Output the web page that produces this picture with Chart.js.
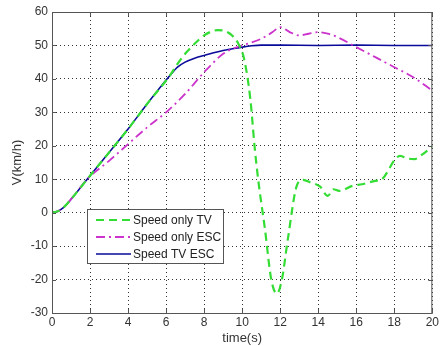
<!DOCTYPE html>
<html>
<head>
<meta charset="utf-8">
<script src="https://cdn.jsdelivr.net/npm/chart.js@4/dist/chart.umd.min.js"></script>
<style>
  html, body { margin: 0; padding: 0; background: #fff; }
  #wrap { width: 441px; height: 346px; }
</style>
</head>
<body>
<div id="wrap"><canvas id="myChart" width="441" height="346"></canvas></div>
<script>
// time (s) and speed (km/h)
var tvTime = [0, 0.3, 0.6, 1, 1.85, 3, 4, 5, 6.2, 6.6, 7, 7.5, 8, 8.4, 8.7, 9.1, 9.5, 9.8, 10.1, 10.43, 10.65, 10.84, 11.2, 11.53, 11.83, 12.09, 12.4, 12.87, 13.2, 13.6, 14.1, 14.5, 14.8, 15.1, 15.8, 16.3, 17, 17.35, 18.05, 18.3, 18.7, 19.05, 19.5, 20];
var tvSpeed = [0, 0.4, 1.5, 4, 10, 18, 25, 32.5, 41, 44.5, 47.5, 50.5, 53, 54.2, 54.6, 54.3, 52.8, 50.5, 46, 34, 20, 10, -5, -20, -24.2, -20, -8, 8, 9.8, 9, 7.8, 5, 7, 6.5, 8, 8.5, 9.5, 10, 16, 17, 16.2, 16, 17.5, 19.8];

var escTime = [0, 0.3, 0.6, 1, 1.85, 3, 4, 5, 6, 7, 8, 9, 9.5, 10, 11, 11.6, 12, 12.5, 13, 13.5, 14, 14.5, 15, 16, 17, 18, 19, 20];
var escSpeed = [0, 0.4, 1.5, 4, 10, 15.5, 20.5, 25.5, 30, 35.5, 42, 47.5, 49, 50, 52, 54, 55.5, 54, 53, 53.5, 54, 53.5, 52.5, 49.5, 46.5, 43.5, 40.5, 36.5];

var bothTime = [0, 0.3, 0.6, 1, 1.85, 3, 4, 5, 6.2, 6.6, 7, 7.5, 8, 8.5, 9, 9.5, 10, 10.5, 11, 12, 14, 16, 18, 20];
var bothSpeed = [0, 0.4, 1.5, 4, 10, 18, 25, 32.5, 41, 43.5, 45, 46.2, 47, 47.8, 48.5, 49, 49.5, 49.9, 50.1, 50.1, 50, 50.1, 50, 50];

var seriesNames = ['Speed only TV', 'Speed only ESC', 'Speed TV ESC'];
var xTicks = [0, 2, 4, 6, 8, 10, 12, 14, 16, 18, 20];
var yTicks = [-30, -20, -10, 0, 10, 20, 30, 40, 50, 60];

function pts(t, v) {
  var out = [];
  for (var i = 0; i < t.length; i++) out.push({ x: t[i], y: v[i] });
  return out;
}

// box around the plot, inner ticks and the legend, matlab style
var matlabBits = {
  id: 'matlabBits',
  afterDraw: function(chart) {
    var c = chart.ctx, a = chart.chartArea;
    var xs = chart.scales.x, ys = chart.scales.y;
    c.save();
    c.strokeStyle = '#555';
    c.lineWidth = 1;
    c.setLineDash([]);
    c.strokeRect(a.left + 0.5, a.top + 0.5, a.right - a.left - 1, a.bottom - a.top);
    c.beginPath();
    xTicks.forEach(function(t) {
      var px = Math.round(xs.getPixelForValue(t)) + 0.5;
      c.moveTo(px, a.bottom); c.lineTo(px, a.bottom - 4);
      c.moveTo(px, a.top); c.lineTo(px, a.top + 4);
    });
    yTicks.forEach(function(t) {
      var py = Math.round(ys.getPixelForValue(t)) + 0.5;
      c.moveTo(a.left, py); c.lineTo(a.left + 4, py);
      c.moveTo(a.right, py); c.lineTo(a.right - 4, py);
    });
    c.stroke();

    // legend
    var lx = 87, ly = 209, lw = 136, lh = 54;
    c.fillStyle = '#fff';
    c.fillRect(lx, ly, lw, lh);
    c.strokeStyle = '#555';
    c.strokeRect(lx + 0.5, ly + 0.5, lw, lh);
    chart.data.datasets.forEach(function(ds, i) {
      var yy = ly + 11 + i * 17;
      c.beginPath();
      c.strokeStyle = ds.borderColor;
      c.lineWidth = ds.borderWidth;
      c.setLineDash(ds.borderDash || []);
      c.moveTo(lx + 9, yy);
      c.lineTo(lx + 44, yy);
      c.stroke();
      c.setLineDash([]);
      c.fillStyle = '#222';
      c.font = '12px "Liberation Sans", Arial, sans-serif';
      c.textBaseline = 'middle';
      c.fillText(ds.label, lx + 46, yy + 1);
    });
    c.restore();
  }
};

var ctx = document.getElementById('myChart').getContext('2d');
var chart = new Chart(ctx, {
  type: 'scatter',
  data: {
    datasets: [{
      label: seriesNames[0],
      data: pts(tvTime, tvSpeed),
      showLine: true,
      borderColor: '#33dd33',
      borderWidth: 2.2,
      borderDash: [8, 5],
      pointRadius: 0,
      cubicInterpolationMode: 'monotone'
    }, {
      label: seriesNames[1],
      data: pts(escTime, escSpeed),
      showLine: true,
      borderColor: '#cc33cc',
      borderWidth: 1.8,
      borderDash: [9, 4, 2, 4],
      pointRadius: 0,
      cubicInterpolationMode: 'monotone'
    }, {
      label: seriesNames[2],
      data: pts(bothTime, bothSpeed),
      showLine: true,
      borderColor: '#0a0a9a',
      borderWidth: 1.6,
      pointRadius: 0,
      cubicInterpolationMode: 'monotone'
    }]
  },
  options: {
    responsive: false,
    animation: false,
    layout: { padding: { top: 12, right: 5, left: 0, bottom: 0 } },
    plugins: { legend: { display: false }, tooltip: { enabled: false } },
    scales: {
      x: {
        type: 'linear',
        min: 0, max: 20,
        afterBuildTicks: function(s) { s.ticks = xTicks.map(function(v) { return { value: v }; }); },
        afterFit: function(s) { s.height = 33; },
        ticks: { color: '#333', font: { family: '"Liberation Sans", Arial, sans-serif', size: 12 }, padding: 2, maxRotation: 0 },
        grid: { color: '#333', lineWidth: 1, drawTicks: false },
        border: { display: false, dash: [1, 3] },
        title: { display: true, text: 'time(s)', color: '#333', font: { family: '"Liberation Sans", Arial, sans-serif', size: 13 }, padding: { top: 0, bottom: 0 } }
      },
      y: {
        type: 'linear',
        min: -30, max: 60,
        afterBuildTicks: function(s) { s.ticks = yTicks.map(function(v) { return { value: v }; }); },
        afterFit: function(s) { s.width = 52; },
        ticks: { color: '#333', font: { family: '"Liberation Sans", Arial, sans-serif', size: 12 }, padding: 4 },
        grid: { color: '#333', lineWidth: 1, drawTicks: false },
        border: { display: false, dash: [1, 3] },
        title: { display: true, text: 'V(km/h)', color: '#333', font: { family: '"Liberation Sans", Arial, sans-serif', size: 13 }, padding: { top: 10, bottom: 0 } }
      }
    }
  },
  plugins: [matlabBits]
});
</script>
</body>
</html>
